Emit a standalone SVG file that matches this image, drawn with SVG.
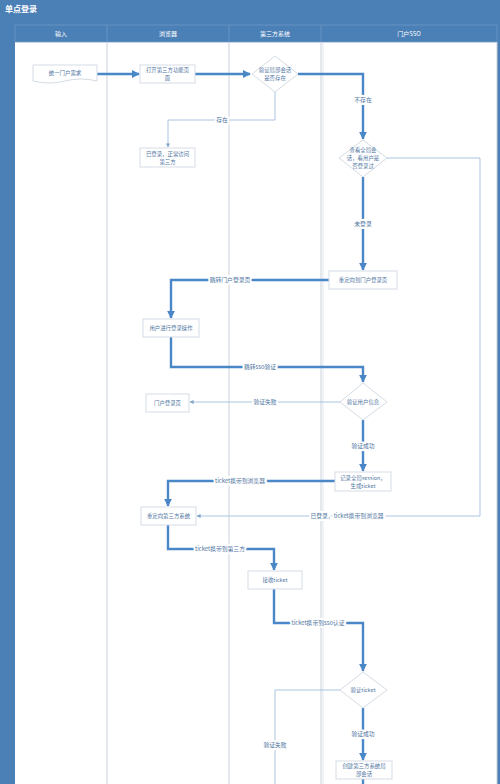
<svg xmlns="http://www.w3.org/2000/svg" width="500" height="784" viewBox="0 0 500 784">
<defs>
<style>
.lane{stroke:#c9d2dd;stroke-width:1;fill:none}
.hdr{font-family:"Noto Sans CJK SC","Noto Sans",sans-serif;font-size:6px;fill:#ffffff;text-anchor:middle}
.box{fill:#ffffff;stroke:#d5dce5;stroke-width:1}
.t{font-family:"Noto Sans CJK SC","Noto Sans",sans-serif;font-size:5.4px;fill:#4e74a0;text-anchor:middle}
.lbl{font-family:"Noto Sans CJK SC","Noto Sans",sans-serif;font-size:5.8px;fill:#4e74a0;text-anchor:middle;paint-order:stroke;stroke:#ffffff;stroke-width:4px;stroke-linejoin:round}
.thick{stroke:#4a87c6;stroke-width:2.4;fill:none;marker-end:url(#ah)}
.thin{stroke:#a9c5e2;stroke-width:1;fill:none;marker-end:url(#as)}
</style>
<marker id="ah" viewBox="0 0 10 10" refX="9" refY="5" markerWidth="8" markerHeight="8" markerUnits="userSpaceOnUse" orient="auto"><path d="M0,0 L10,5 L0,10 z" fill="#4a87c6"/></marker>
<marker id="as" viewBox="0 0 10 10" refX="9" refY="5" markerWidth="4" markerHeight="4" markerUnits="userSpaceOnUse" orient="auto"><path d="M0,0 L10,5 L0,10 z" fill="#7fa3c9"/></marker>
</defs>
<rect x="0" y="0" width="500" height="784" fill="#4b80b7"/>
<rect x="15" y="42" width="482" height="742" fill="#ffffff"/>
<text x="5" y="12" font-family="Noto Sans CJK SC, sans-serif" font-size="8px" font-weight="bold" fill="#ffffff">单点登录</text>
<g id="lanes">
<rect x="15" y="25" width="482" height="17" fill="#4b80b7" stroke="#6b97c5" stroke-width="0.8"/>
<line x1="107" y1="25" x2="107" y2="42" stroke="#6b97c5" stroke-width="0.8"/>
<line x1="229" y1="25" x2="229" y2="42" stroke="#6b97c5" stroke-width="0.8"/>
<line x1="321" y1="25" x2="321" y2="42" stroke="#6b97c5" stroke-width="0.8"/>
<text class="hdr" x="61" y="36">输入</text>
<text class="hdr" x="168" y="36">浏览器</text>
<text class="hdr" x="275" y="36">第三方系统</text>
<text class="hdr" x="409" y="36">门户SSO</text>
<line class="lane" x1="107" y1="42" x2="107" y2="784"/>
<line class="lane" x1="229" y1="42" x2="229" y2="784"/>
<line class="lane" x1="321" y1="42" x2="321" y2="784"/>
<line class="lane" x1="323" y1="42" x2="323" y2="784" stroke-opacity="0.5"/>
<line class="lane" x1="497" y1="42" x2="497" y2="784"/>
</g>
<g id="connectors">
<path class="thick" d="M97,74 H139"/>
<path class="thick" d="M195,74 H250"/>
<path class="thick" d="M298,74 H363 V139"/>
<path class="thin" d="M275,92 V120 H168 V147"/>
<path class="thick" d="M363,177 V270"/>
<path class="thin" d="M387,158 H480 V516 H197"/>
<path class="thick" d="M329,280 H171 V318"/>
<path class="thick" d="M171,337 V367 H363 V382"/>
<path class="thin" d="M340,402 H190"/>
<path class="thick" d="M363,420 V471"/>
<path class="thick" d="M335,481 H168 V506"/>
<path class="thick" d="M168,525 V549 H274 V570"/>
<path class="thick" d="M274,589 V623 H363 V671"/>
<path class="thin" style="marker-end:none" d="M342,690 H275 V784"/>
<path class="thick" d="M363,708 V760"/>
<path class="thick" style="marker-end:none" d="M363,779 V784"/>
<text class="lbl" x="363" y="102">不存在</text>
<text class="lbl" x="222" y="122">存在</text>
<text class="lbl" x="363" y="226">未登录</text>
<text class="lbl" x="347" y="518">已登录，ticket携带到浏览器</text>
<text class="lbl" x="230" y="282">跳转门户登录页</text>
<text class="lbl" x="260" y="369">跳转sso验证</text>
<text class="lbl" x="265" y="404">验证失败</text>
<text class="lbl" x="363" y="448">验证成功</text>
<text class="lbl" x="240" y="483">ticket携带到浏览器</text>
<text class="lbl" x="220" y="551">ticket携带到第三方</text>
<text class="lbl" x="318" y="625">ticket携带到sso认证</text>
<text class="lbl" x="275" y="747">验证失败</text>
<text class="lbl" x="363" y="736">验证成功</text>
</g>
<g id="n1"><path class="box" d="M33,65 H97 V81 Q81,77 65,81 Q49,85 33,81 Z"/><text class="t" x="65" y="75">统一门户需求</text></g>
<g id="n2"><rect class="box" x="140" y="65" width="55" height="18"/><text class="t" x="167.5" y="72">打开第三方功能页</text><text class="t" x="167.5" y="80">面</text></g>
<g id="d1"><path class="box" d="M275,56 L298,74 L275,92 L252,74 Z"/><text class="t" x="275" y="72">验证局部会话</text><text class="t" x="275" y="80">是否存在</text></g>
<g id="d2"><path class="box" d="M363,140 L387,158 L363,177 L339,158 Z"/><text class="t" x="363" y="152">查看全局会</text><text class="t" x="363" y="160">话，看用户是</text><text class="t" x="363" y="168">否登录过</text></g>
<g id="n3"><rect class="box" x="140" y="148" width="55" height="19"/><text class="t" x="167.5" y="156">已登录，正常访问</text><text class="t" x="167.5" y="164">第三方</text></g>
<g id="n4"><rect class="box" x="329" y="271" width="68" height="18"/><text class="t" x="363" y="282">重定向到门户登录页</text></g>
<g id="n5"><rect class="box" x="143" y="319" width="56" height="18"/><text class="t" x="171" y="330">用户进行登录操作</text></g>
<g id="d3"><path class="box" d="M363,383 L387,402 L363,420 L340,402 Z"/><text class="t" x="363" y="404">验证用户信息</text></g>
<g id="n6"><rect class="box" x="146" y="394" width="43" height="18"/><text class="t" x="167.5" y="405">门户登录页</text></g>
<g id="n7"><rect class="box" x="335" y="472" width="56" height="19"/><text class="t" x="363" y="480">记录全局session，</text><text class="t" x="363" y="488">生成ticket</text></g>
<g id="n8"><rect class="box" x="141" y="507" width="55" height="18"/><text class="t" x="168.5" y="518">重定向第三方系统</text></g>
<g id="n9"><rect class="box" x="248" y="571" width="54" height="18"/><text class="t" x="275" y="582">接收ticket</text></g>
<g id="d4"><path class="box" d="M363,672 L387,690 L363,708 L340,690 Z"/><text class="t" x="363" y="692">验证ticket</text></g>
<g id="n10"><rect class="box" x="336" y="761" width="56" height="18"/><text class="t" x="364" y="768">创建第三方系统局</text><text class="t" x="364" y="776">部会话</text></g>
</svg>
